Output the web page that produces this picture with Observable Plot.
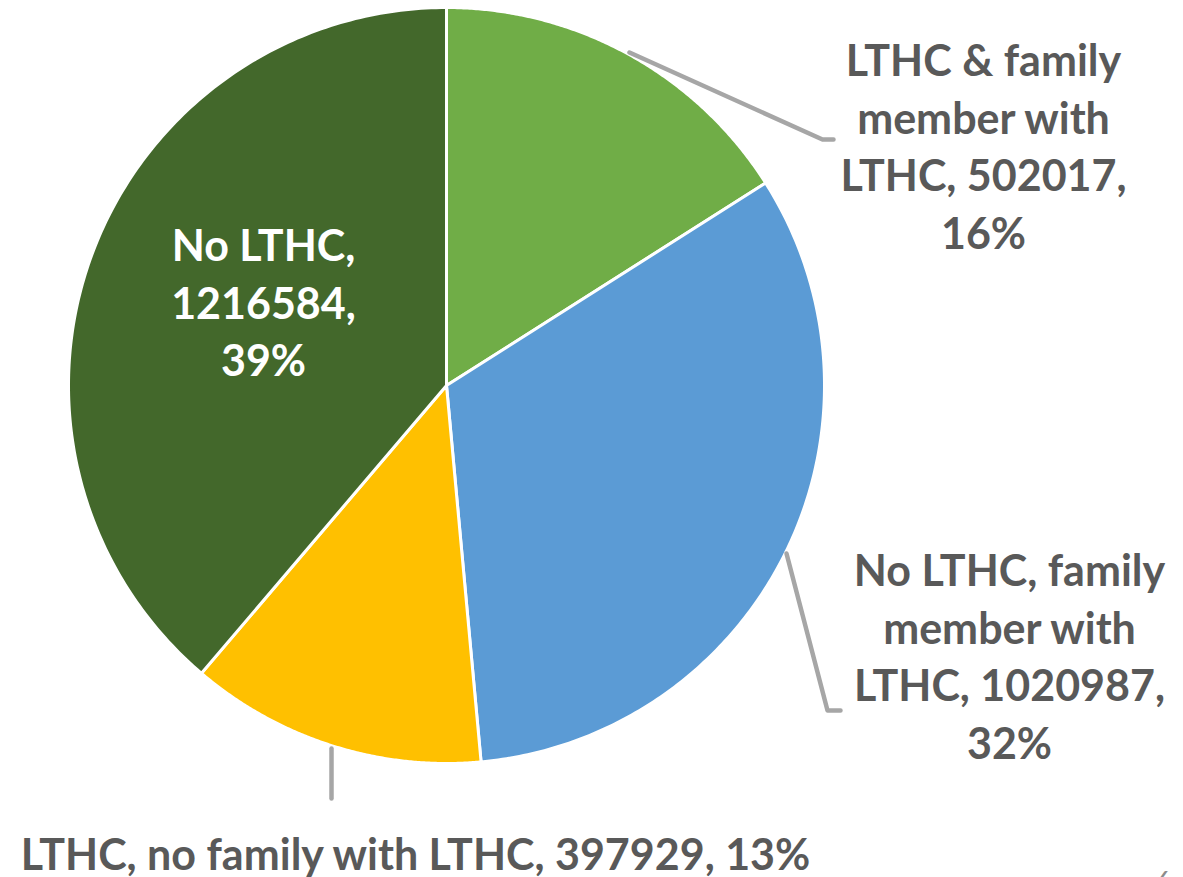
<!DOCTYPE html>
<html><head><meta charset="utf-8">
<script src="https://cdn.jsdelivr.net/npm/d3@7"></script>
<script src="https://cdn.jsdelivr.net/npm/@observablehq/plot@0.6"></script>
<style>html,body{margin:0;padding:0;background:#fff;overflow:hidden} svg{display:block}</style>
</head><body><div id="chart"></div>
<script>
// ---- data ----
const categories = ["LTHC & family member with LTHC", "No LTHC, family member with LTHC", "LTHC, no family with LTHC", "No LTHC"];
const counts = [502017, 1020987, 397929, 1216584];
const shares = ["16%", "32%", "13%", "39%"];
const sliceColors = ["#70AD47", "#5B9BD5", "#FFC000", "#43682B"];
const labelTexts = [
  "LTHC & family\nmember with\nLTHC, 502017,\n16%",
  "No LTHC, family\nmember with\nLTHC, 1020987,\n32%",
  "LTHC, no family with LTHC, 397929, 13%",
  "No LTHC,\n1216584,\n39%"
];
const pageNumber = "6";

// ---- layout ----
const W = 1183, H = 877;
const R = 378, CX = 446, CY = 385;
const FONT = 43;
const LINE = 57.5;
const labelLayout = [
  {px: 983, py: 143.5, fill: "#595959"},
  {px: 1009, py: 653.5, fill: "#595959"},
  {px: 415, py: 851, fill: "#595959"},
  {px: 263, py: 300, fill: "#ffffff"}
];
const leaderLayout = [
  [[629, 52], [822, 139], [833, 139]],
  [[786, 553], [827, 710], [840, 710]],
  [[331, 748], [331, 798]],
  null
];
const toData = ([px, py]) => ({x: (px - CX) / R, y: (CY - py) / R});

// ---- slices ----
const total = d3.sum(counts);
let cum = 0;
const slicePolys = counts.map((c, i) => {
  const a0 = 2 * Math.PI * cum / total;
  cum += c;
  const a1 = 2 * Math.PI * cum / total;
  const n = 180;
  const pts = [{x: 0, y: 0}];
  for (let k = 0; k <= n; k++) {
    const a = a0 + (a1 - a0) * k / n;
    pts.push({x: Math.sin(a), y: Math.cos(a)});
  }
  pts.push({x: 0, y: 0});
  return {pts, color: sliceColors[i], name: categories[i], share: shares[i]};
});

const marks = [];
slicePolys.forEach(s => {
  marks.push(Plot.line(s.pts, {x: "x", y: "y", fill: s.color, stroke: "#ffffff", strokeWidth: 3, strokeLinejoin: "round"}));
});
leaderLayout.forEach(l => {
  if (!l) return;
  marks.push(Plot.line(l.map(toData), {x: "x", y: "y", stroke: "#A6A6A6", strokeWidth: 4.5}));
});
labelTexts.forEach((t, i) => {
  const p = toData([labelLayout[i].px, labelLayout[i].py]);
  marks.push(Plot.text([{...p, t}], {
    x: "x", y: "y", text: "t", fill: labelLayout[i].fill,
    fontSize: FONT, fontWeight: "bold", fontFamily: "Lato",
    lineHeight: LINE / FONT, textAnchor: "middle"
  }));
});
marks.push(Plot.text([{...toData([1163, 882]), t: pageNumber}], {x: "x", y: "y", text: "t", fill: "#8C8C8C", fontSize: 26, fontFamily: "Lato"}));

const chart = Plot.plot({
  width: W, height: H,
  marginLeft: CX - R, marginRight: W - (CX + R),
  marginTop: CY - R, marginBottom: H - (CY + R),
  x: {domain: [-1, 1], axis: null},
  y: {domain: [-1, 1], axis: null},
  style: {background: "#ffffff", overflow: "visible"},
  marks
});
document.getElementById("chart").appendChild(chart);
</script>
</body></html>
